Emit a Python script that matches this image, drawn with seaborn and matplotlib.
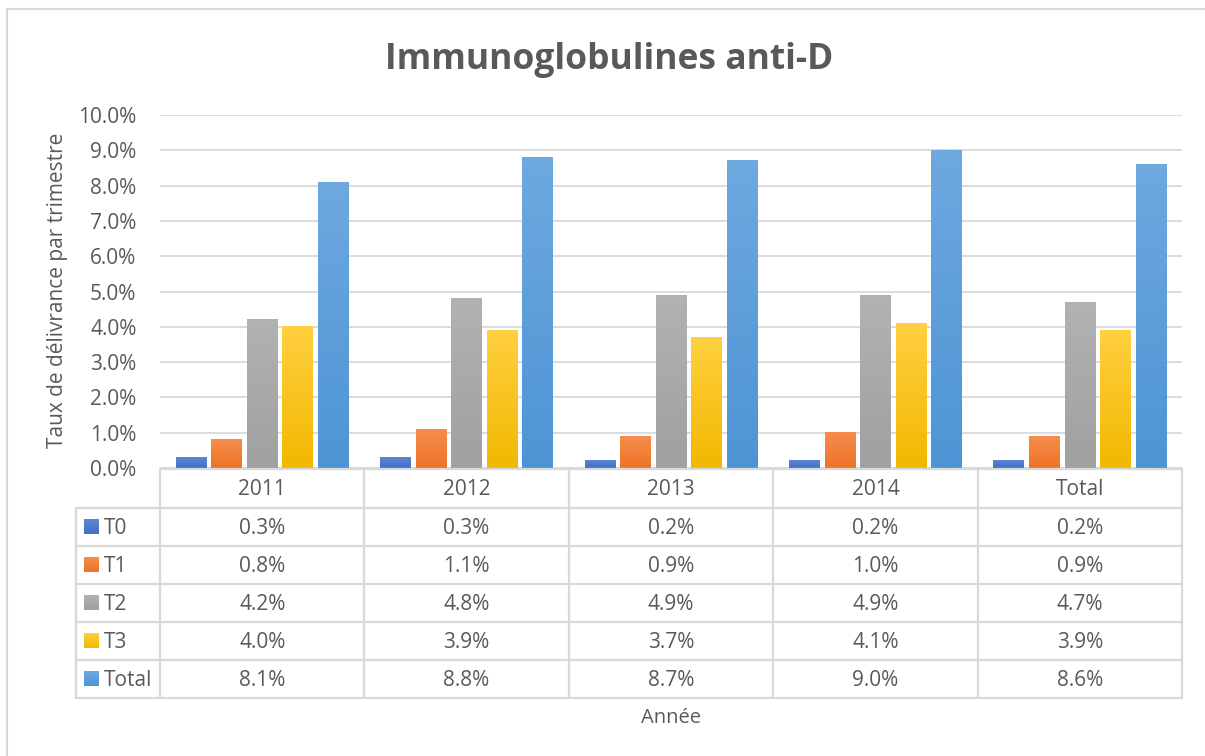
import numpy as np
import pandas as pd
import matplotlib
matplotlib.use("Agg")
import matplotlib.pyplot as plt
from matplotlib.colors import LinearSegmentedColormap
from matplotlib.patches import Rectangle
import seaborn as sns

# données (taux en %)
annees = ["2011", "2012", "2013", "2014", "Total"]
series = ["T0", "T1", "T2", "T3", "Total"]
t0 = [0.3, 0.3, 0.2, 0.2, 0.2]
t1 = [0.8, 1.1, 0.9, 1.0, 0.9]
t2 = [4.2, 4.8, 4.9, 4.9, 4.7]
t3 = [4.0, 3.9, 3.7, 4.1, 3.9]
total = [8.1, 8.8, 8.7, 9.0, 8.6]
yticks = [0, 1, 2, 3, 4, 5, 6, 7, 8, 9, 10]

# couleurs (bas, haut) du dégradé
couleurs = {
    "T0": ("#4270C6", "#5A86D2"),
    "T1": ("#EE7326", "#F68D4E"),
    "T2": ("#A0A0A0", "#B2B2B2"),
    "T3": ("#F2B800", "#FFD040"),
    "Total": ("#4E94D4", "#6EA9E0"),
}
GRIS = "#595959"
LIGNE = "#D9D9D9"

valeurs = {"T0": t0, "T1": t1, "T2": t2, "T3": t3, "Total": total}
rows = []
for s in series:
    for a, v in zip(annees, valeurs[s]):
        rows.append({"annee": a, "serie": s, "taux": v / 100.0})
df = pd.DataFrame(rows)

sns.set_style("white")
plt.rcParams["font.family"] = ["Open Sans", "DejaVu Sans"]

W, H = 1205, 756
fig = plt.figure(figsize=(W / 100, H / 100), dpi=100)

# zone du graphique en pixels
x0, x1, ytop, ybot = 160, 1182, 115, 468
ax = fig.add_axes([x0 / W, 1 - ybot / H, (x1 - x0) / W, (ybot - ytop) / H])

sns.barplot(data=df, x="annee", y="taux", hue="serie", order=annees,
            hue_order=series, palette=[couleurs[s][0] for s in series],
            width=0.87, gap=0.14, ax=ax, legend=False, zorder=3)

ax.set_ylim(0, 0.10)
ax.set_xlim(-0.5, len(annees) - 0.5)
ax.set_yticks([t / 100 for t in yticks])
ax.set_yticklabels([f"{t:.1f}%" for t in yticks], fontsize=15, color=GRIS)
ax.set_xticks([])
ax.set_xlabel("")
ax.set_ylabel("")
ax.tick_params(axis="y", length=0, pad=17)
ax.grid(axis="y", color=LIGNE, linewidth=1.3, zorder=0)
for sp in ax.spines.values():
    sp.set_visible(False)

# dégradé vertical dans chaque barre
grad = np.linspace(0, 1, 256).reshape(-1, 1)
for cont, s in zip(ax.containers, series):
    cmap = LinearSegmentedColormap.from_list(s, couleurs[s])
    for p in cont.patches:
        bx, by = p.get_x(), p.get_y()
        bw, bh = p.get_width(), p.get_height()
        ax.imshow(grad, cmap=cmap, aspect="auto", origin="lower",
                  extent=(bx, bx + bw, by, by + bh), zorder=4)
        p.set_visible(False)
ax.set_xlim(-0.5, len(annees) - 0.5)
ax.set_ylim(0, 0.10)

# calque en pixels pour le tableau, le titre et le cadre
ov = fig.add_axes([0, 0, 1, 1], facecolor="none")
ov.patch.set_visible(False)
ov.set_xlim(0, W)
ov.set_ylim(H, 0)
ov.axis("off")

ov.plot([7, 7], [9, H], color=LIGNE, lw=1.5)
ov.plot([7, W + 5], [9, 9], color=LIGNE, lw=1.5)

ov.text(609, 60, "Immunoglobulines anti-D", fontsize=25.5,
        fontweight="bold", color=GRIS, ha="center", va="center")
ov.text(57, 290, "Taux de délivrance par trimestre", fontsize=15,
        color=GRIS, rotation=90, ha="center", va="center")
ov.text((x0 + x1) / 2, 718, "Année", fontsize=14.5, color=GRIS,
        ha="center", va="center")

# tableau de données
cols = np.linspace(x0, x1, len(annees) + 1)
lignes = [469, 508, 546, 584, 622, 660, 698]
xleg = 76
lw = 1.6
ov.plot([x0, x1], [lignes[0], lignes[0]], color=LIGNE, lw=lw)
for yl in lignes[1:]:
    ov.plot([xleg, x1], [yl, yl], color=LIGNE, lw=lw)
for xc in cols:
    ov.plot([xc, xc], [lignes[0], lignes[-1]], color=LIGNE, lw=lw)
ov.plot([xleg, xleg], [lignes[1], lignes[-1]], color=LIGNE, lw=lw)

for j, a in enumerate(annees):
    ov.text((cols[j] + cols[j + 1]) / 2, (lignes[0] + lignes[1]) / 2 + 1, a,
            fontsize=15, color=GRIS, ha="center", va="center")

for i, s in enumerate(series):
    yc = (lignes[i + 1] + lignes[i + 2]) / 2
    cmap = LinearSegmentedColormap.from_list(s + "_leg", couleurs[s])
    ov.imshow(grad, cmap=cmap, aspect="auto", origin="lower",
              extent=(84, 99, yc + 7.5, yc - 7.5), zorder=4)
    ov.text(104, yc + 1, s, fontsize=15, color=GRIS, ha="left", va="center")
    for j, v in enumerate(valeurs[s]):
        ov.text((cols[j] + cols[j + 1]) / 2, yc + 1, f"{v:.1f}%",
                fontsize=15, color=GRIS, ha="center", va="center")
ov.set_xlim(0, W)
ov.set_ylim(H, 0)

# pas de bordure à droite
fig.patches.append(Rectangle(((W - 12) / W, 0), 12 / W, (H - 11) / H,
                             transform=fig.transFigure, facecolor="white",
                             edgecolor="none", zorder=20))

fig.savefig("out.png", dpi=100, facecolor="white")
